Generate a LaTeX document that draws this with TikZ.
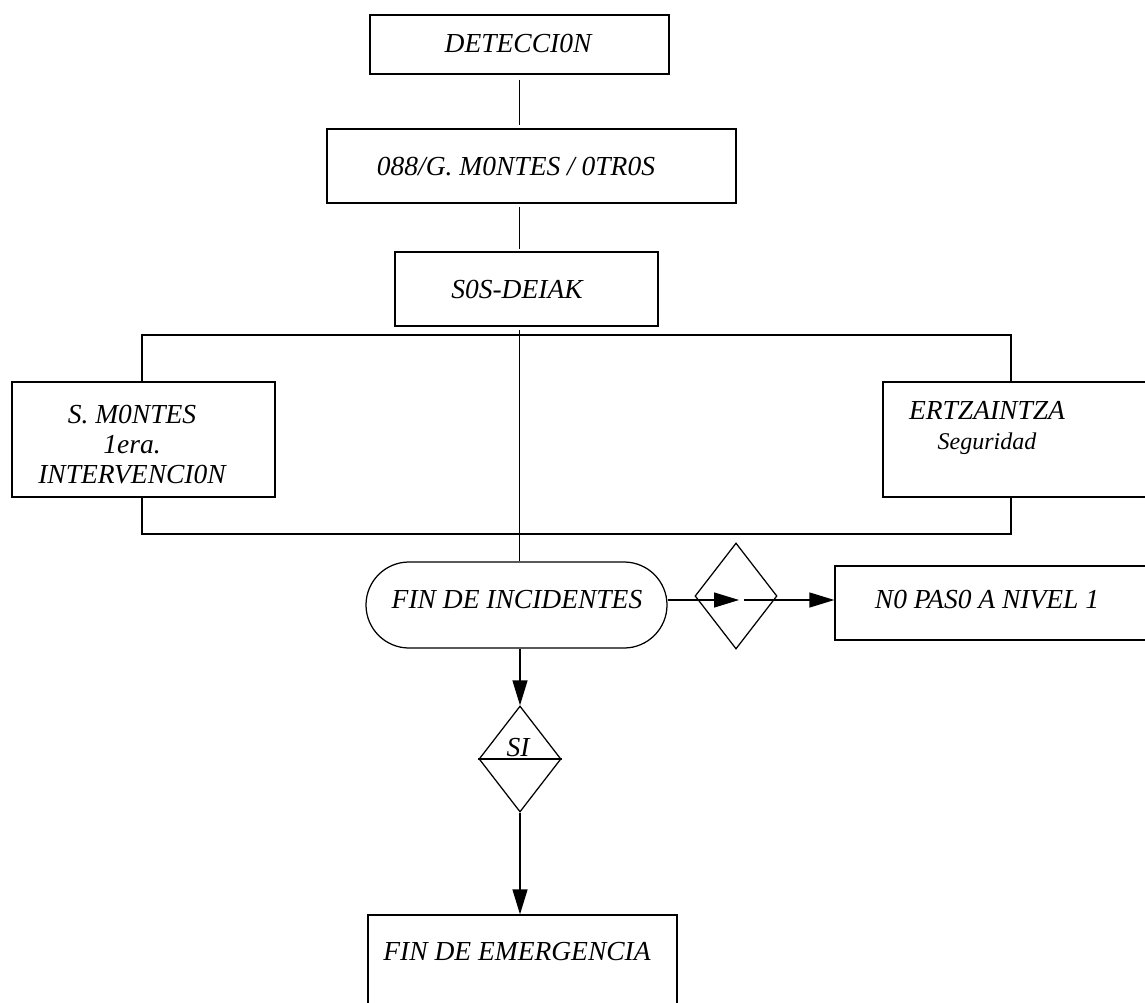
\documentclass[tikz,border=0pt]{standalone}
\usepackage{fontspec}
\setmainfont{Liberation Serif}
\usetikzlibrary{arrows.meta,shapes.geometric,shapes.misc}
\begin{document}
\begin{tikzpicture}[x=1pt,y=-1pt,line width=1.25pt,
caja/.style={draw,rectangle,inner sep=0pt},
rombo/.style={draw,diamond,inner sep=0pt,minimum width=82pt,minimum height=106pt},
texto/.style={font=\fontsize{27.5}{30}\selectfont\itshape,align=center,inner sep=0pt},
flecha/.style={-{Triangle[length=25pt,width=15pt]}}]
\useasboundingbox(0,0)rectangle(1145,1003);
\clip(0,0)rectangle(1145,1003);
\node[caja,minimum width=299pt,minimum height=59pt](det)at(519.5,44.5){};
\node[texto](dett)at(518,43){DETECCI0N};
\node[caja,minimum width=409pt,minimum height=74pt](tel)at(531.5,166){};
\node[texto](telt)at(516,167){088/G. M0NTES / 0TR0S};
\node[caja,minimum width=263pt,minimum height=74pt](sos)at(526.5,289){};
\node[texto](sost)at(517,289){S0S-DEIAK};
\node[caja,minimum width=263pt,minimum height=115pt](mon)at(143.5,439.5){};
\node[texto](mont)at(132,445){S. M0NTES\\1era.\\INTERVENCI0N};
\node[caja,minimum width=267pt,minimum height=115pt](ert)at(1016.5,439.5){};
\node[texto](ertt)at(987,428){ERTZAINTZA\\{\fontsize{24}{28}\selectfont Seguridad}};
\node[draw,rounded rectangle,inner sep=0pt,minimum width=301pt,minimum height=86pt](fin)at(516.5,605){};
\node[texto](fint)at(517,600){FIN DE INCIDENTES};
\node[rombo](d1)at(736,596){};
\node[caja,minimum width=315pt,minimum height=74pt](np)at(992.5,603){};
\node[texto](npt)at(987,600){N0 PAS0 A NIVEL 1};
\node[rombo](d2)at(520,759){};
\node[texto,anchor=base](sit)at(518,756){SI};
\node[caja,minimum width=309pt,minimum height=95pt](emer)at(522.5,962.5){};
\node[texto](emert)at(517,952){FIN DE EMERGENCIA};
% lineas
\coordinate(b1)at(142,335);\coordinate(b2)at(1011,335);
\coordinate(j1)at(142,534);\coordinate(j2)at(1011,534);
\coordinate(a1)at(739,600);\coordinate(a2)at(744,600);
\draw[shorten <=5pt,shorten >=3pt](det.south)--(det.south|-tel.north);
\draw[shorten <=3pt,shorten >=2pt](det.south|-tel.south)--(det.south|-sos.north);
\draw[shorten <=3pt](det.south|-sos.south)--(det.south|-fin.north);
\draw(mon.north-|b1)--(b1)--(b2)--(ert.north-|b2);
\draw(mon.south-|j1)--(j1)--(j2)--(ert.south-|j2);
\draw[flecha](a1-|fin.east)--(a1);
\draw[flecha](a2)--(a2-|np.west);
\draw(d2.west)--(d2.east);
\draw[flecha](fin.south-|d2.north)--(d2.north);
\draw[flecha](d2.south)--(d2.south|-emer.north);
\end{tikzpicture}
\end{document}
